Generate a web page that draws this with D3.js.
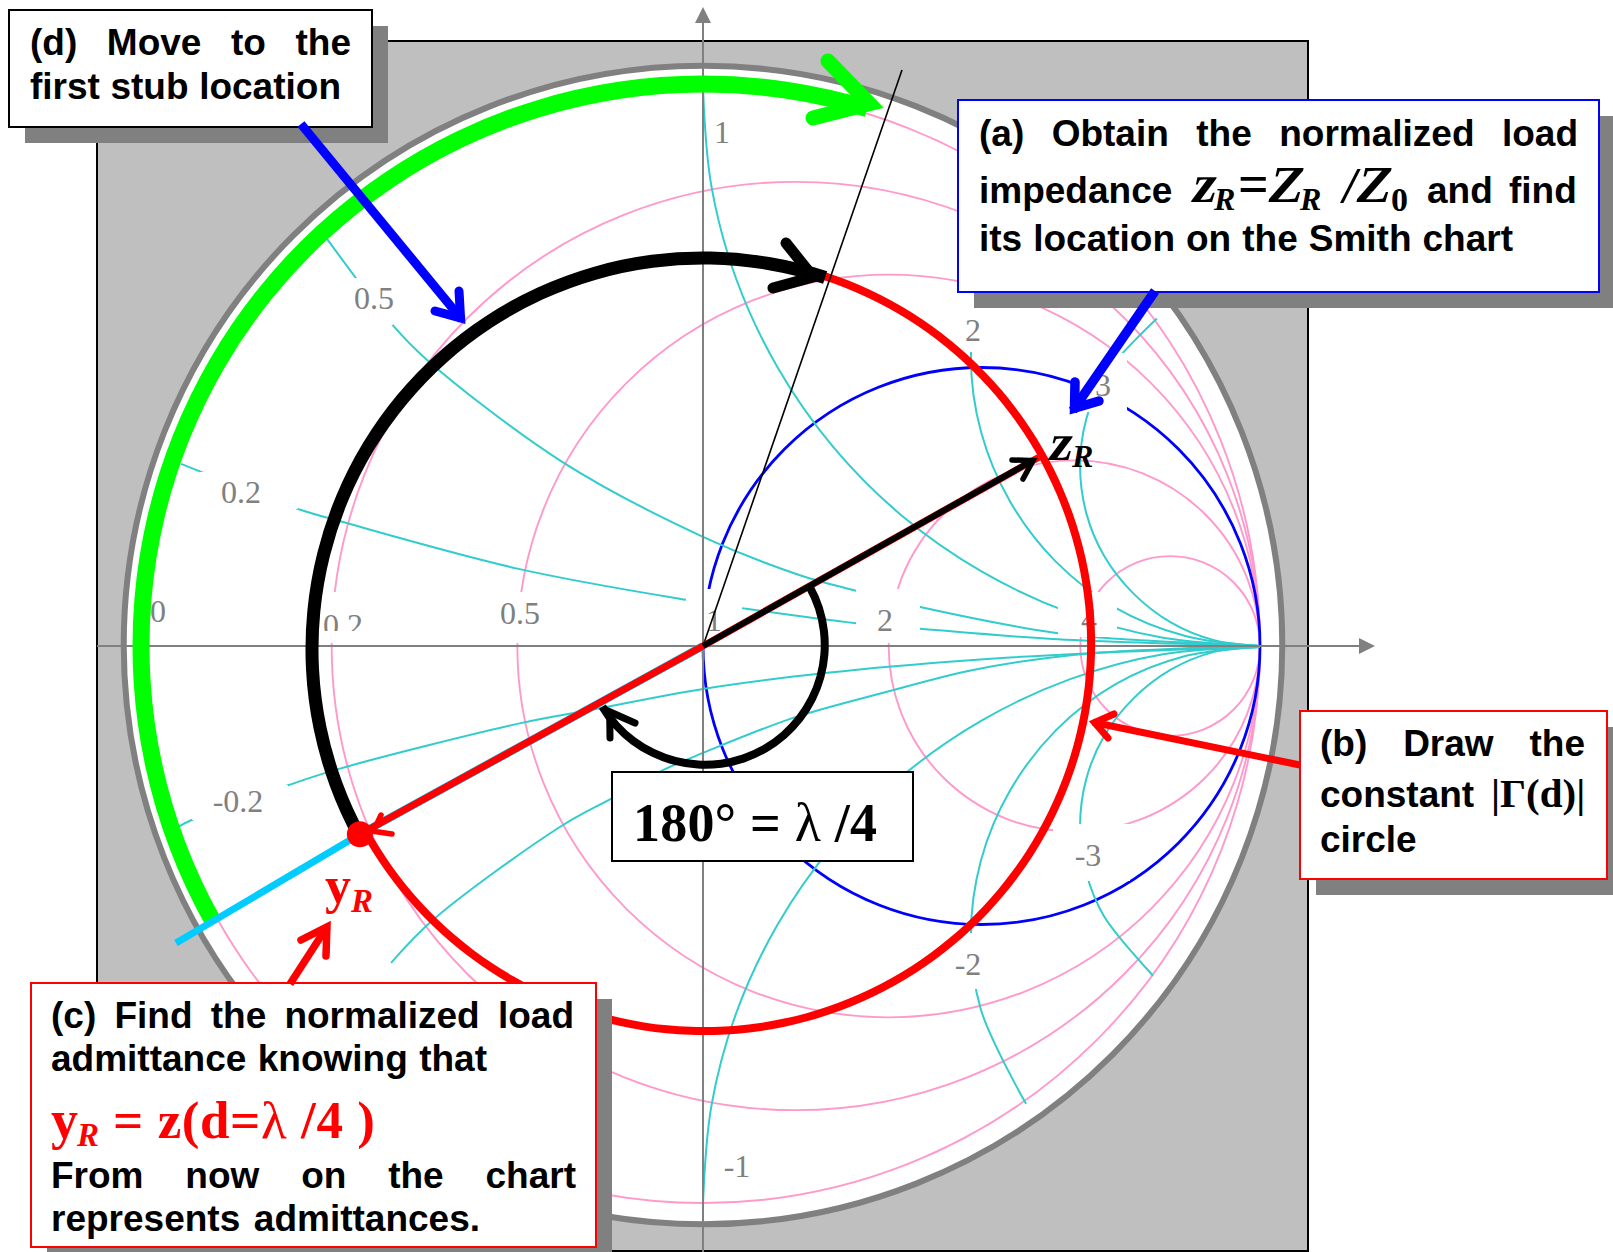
<!DOCTYPE html>
<html lang="en">

<head>
    <meta charset="UTF-8" />
    <title>Smith chart: load admittance and first stub location</title>
    <script src="https://d3js.org/d3.v7.min.js"></script>
    <style>
        html, body { margin: 0; padding: 0; background: #fff; overflow: hidden; }
        svg { display: block; }
    </style>
</head>

<body>
    <script>

        // constant resistance circles - the unit one is drawn blue
        var pinkResistance = [0, 0.2, 0.5, 2, 5.2];
        var blueResistance = [1];

        // constant reactance curves as [Re, Im] of the reflection coefficient
        var xPos02 = [[-.937, .327], [-.727, .246], [-.648, .223], [-.329, .138], [-.031, .083], [.070, .068], [.275, .041], [.390, .031], [.637, .012], [1, 0]];
        var xPos05 = [[-.675, .731], [-.557, .576], [-.497, .515], [-.255, .332], [0, .196], [.174, .127], [.275, .099], [.390, .070], [.637, .023], [.743, .013], [1, 0]];
        var xPos1 = [[0, 1], [.015, .826], [.060, .658], [.134, .5], [.234, .357], [.357, .234], [.5, .134], [.658, .060], [.826, .015], [1, 0]];
        var xPos2 = [[.551, .779], [.499, .653], [.481, .519], [.499, .385], [.551, .260], [.633, .152], [.740, .069], [.866, .018], [1, 0]];
        var xPos3 = [[.815, .588], [.720, .485], [.688, .407], [.677, .323], [.688, .239], [.720, .162], [.772, .095], [.839, .043], [.916, .011], [1, 0]];
        var xNeg02 = [[-.943, -.325], [-.917, -.312], [-.745, -.250], [-.655, -.221], [-.325, -.138], [-.203, -.115], [0, -.077], [.223, -.048], [.485, -.025], [.695, -.013], [1, -.002]];
        var xNeg05 = [[-.560, -.569], [-.485, -.492], [-.257, -.325], [-.163, -.273], [-.072, -.223], [0, -.192], [.162, -.129], [.327, -.083], [.485, -.043], [.664, -.016], [.844, -.005], [1, -.002]];
        var xNeg1 = [[0, -1], [.015, -.826], [.060, -.658], [.134, -.5], [.234, -.357], [.357, -.234], [.5, -.134], [.658, -.060], [.826, -.015], [1, -.002]];
        var xNeg2 = [[.580, -.822], [.499, -.653], [.481, -.519], [.499, -.385], [.551, -.260], [.633, -.152], [.740, -.069], [.866, -.018], [1, -.002]];
        var xNeg3 = [[.808, -.592], [.720, -.485], [.688, -.407], [.677, -.323], [.688, -.239], [.720, -.162], [.772, -.095], [.839, -.043], [.916, -.011], [1, -.002]];
        var reactanceCurves = [xPos02, xPos05, xPos1, xPos2, xPos3, xNeg02, xNeg05, xNeg1, xNeg2, xNeg3];

        // points and |gamma| values of the construction
        var zR = [.603, .339];
        var yR = [-.616, -.338];
        var gammaCircle = 0.695;

        // grey scale labels
        var scaleLabels = ["1", "0.5", "0.2", "0", "0.2", "0.5", "1", "2", "4", "2", "3", "-0.2", "-1", "-2", "-3"];

        var w = 1613;
        var h = 1252;
        var cx = 703;
        var cy = 646;
        var R = 557;

        var xScale = d3.scaleLinear().domain([-1, 1]).range([cx - R, cx + R]);
        var yScale = d3.scaleLinear().domain([-1, 1]).range([cy + R, cy - R]);
        var rScale = d3.scaleLinear().domain([0, 1]).range([0, R]);

        var sans = "'Liberation Sans', Arial, sans-serif";
        var serif = "'Liberation Serif', 'Times New Roman', serif";

        var svg = d3.select("body")
            .append("svg")
            .attr("width", w)
            .attr("height", h);

        // grey panel with the white chart disc
        svg.append("rect")
            .attr("x", 97).attr("y", 41)
            .attr("width", 1211).attr("height", 1210)
            .attr("fill", "#bfbfbf")
            .attr("stroke", "#000")
            .attr("stroke-width", 2);

        svg.append("circle")
            .attr("cx", cx).attr("cy", cy - 1)
            .attr("r", rScale(1.04))
            .attr("fill", "#fff")
            .attr("stroke", "#808080")
            .attr("stroke-width", 6);

        function drawResistance(values, color, width) {
            svg.selectAll(null)
                .data(values)
                .enter()
                .append("circle")
                .attr("cx", function (d) { return xScale(d / (1 + d)); })
                .attr("cy", yScale(0))
                .attr("r", function (d) { return rScale(1 / (1 + d)); })
                .attr("fill", "none")
                .attr("stroke", color)
                .attr("stroke-width", width);
        }

        drawResistance(pinkResistance, "#ff99cc", 1.9);
        drawResistance(blueResistance, "#0000ff", 2.8);

        var curveLine = d3.line()
            .x(function (d) { return xScale(d[0]); })
            .y(function (d) { return yScale(d[1]); })
            .curve(d3.curveCatmullRom.alpha(0.5));

        svg.selectAll(null)
            .data(reactanceCurves)
            .enter()
            .append("path")
            .attr("d", curveLine)
            .attr("fill", "none")
            .attr("stroke", "#33cccc")
            .attr("stroke-width", 2);

        // white label boxes cut the gaps in the curves
        var gaps = [
            [354, 278, 39, 47], [200, 472, 98, 37], [322, 592, 48, 51], [495, 592, 50, 51],
            [686, 589, 56, 56], [856, 589, 64, 54], [1058, 592, 59, 45], [955, 308, 35, 44],
            [1073, 353, 54, 59], [192, 785, 96, 35], [945, 933, 55, 56], [1053, 824, 77, 57]
        ];
        svg.selectAll(null)
            .data(gaps)
            .enter()
            .append("rect")
            .attr("x", function (d) { return d[0]; })
            .attr("y", function (d) { return d[1]; })
            .attr("width", function (d) { return d[2]; })
            .attr("height", function (d) { return d[3]; })
            .attr("fill", "#fff");

        var labelPos = [
            [722, 143], [374, 309], [241, 503], [158, 622], [343, 636], [520, 624], [714, 631],
            [885, 631], [1089, 630], [973, 341], [1103, 396], [238, 812], [737, 1177], [968, 975], [1088, 866]
        ];
        svg.selectAll(null)
            .data(scaleLabels)
            .enter()
            .append("text")
            .attr("x", function (d, i) { return labelPos[i][0]; })
            .attr("y", function (d, i) { return labelPos[i][1]; })
            .attr("text-anchor", "middle")
            .attr("font-family", serif)
            .attr("font-size", 32)
            .attr("fill", "#808080")
            .text(function (d) { return d; });

        // lower part of the 0.2 label is cut off in the original
        svg.append("rect").attr("x", 320).attr("y", 631).attr("width", 50).attr("height", 12).attr("fill", "#fff");

        // axes
        svg.append("line").attr("x1", cx).attr("x2", cx).attr("y1", 18).attr("y2", h)
            .attr("stroke", "#808080").attr("stroke-width", 2);
        svg.append("line").attr("x1", 97).attr("x2", 1362).attr("y1", cy).attr("y2", cy)
            .attr("stroke", "#808080").attr("stroke-width", 2);
        svg.append("path").attr("d", "M703,7L695,23L711,23Z").attr("fill", "#808080");
        svg.append("path").attr("d", "M1375,646L1359,638L1359,654Z").attr("fill", "#808080");

        // thick arcs, angles in degrees clockwise from the top
        function drawArc(r, width, from, to, color, dx, dy) {
            svg.append("path")
                .attr("transform", "translate(" + (cx + (dx || 0)) + "," + (cy + (dy || 0)) + ")")
                .attr("d", d3.arc()({
                    innerRadius: rScale(r) - width / 2,
                    outerRadius: rScale(r) + width / 2,
                    startAngle: from * Math.PI / 180,
                    endAngle: to * Math.PI / 180
                }))
                .attr("fill", color);
        }

        function polyline(points, color, width) {
            return svg.append("path")
                .attr("d", d3.line()(points))
                .attr("fill", "none")
                .attr("stroke", color)
                .attr("stroke-width", width)
                .attr("stroke-linecap", "round")
                .attr("stroke-linejoin", "miter")
                .attr("stroke-miterlimit", 12);
        }

        // open arrow head: the tip is moved back so the mitre lands on the point
        function head(tip, b1, b2, color, width) {
            var mx = (b1[0] + b2[0]) / 2, my = (b1[1] + b2[1]) / 2;
            var len = Math.hypot(tip[0] - mx, tip[1] - my);
            var a1 = Math.atan2(b1[1] - tip[1], b1[0] - tip[0]);
            var a2 = Math.atan2(b2[1] - tip[1], b2[0] - tip[0]);
            var half = Math.abs(Math.atan2(Math.sin(a1 - a2), Math.cos(a1 - a2))) / 2;
            var back = width / 2 / Math.sin(half);
            var t = [tip[0] - (tip[0] - mx) / len * back, tip[1] - (tip[1] - my) / len * back];
            polyline([b1, t, b2], color, width);
        }

        function arrow(start, tip, b1, b2, color, width) {
            polyline([start, [(b1[0] + b2[0]) / 2 * 0.25 + tip[0] * 0.75, (b1[1] + b2[1]) / 2 * 0.25 + tip[1] * 0.75]], color, width)
                .attr("stroke-linecap", "butt");
            head(tip, b1, b2, color, width);
        }

        // green: move to the first stub location
        drawArc(1.009, 17, -119.3, 17, "#00ff00");
        head([888, 109], [828, 61], [813, 118], "#00ff00", 15);

        // constant gamma circle, only the part not covered by the black rotation
        drawArc(gammaCircle, 8, 18.2, 241.3, "#ff0000", 1, -2);

        drawArc(0.702, 13, -118.7, 18.2, "#000", 0, 3);
        head([825, 281], [786, 243], [773, 288], "#000", 11);

        // thin reference line
        polyline([[cx, cy], [902, 70]], "#000", 1.6).attr("stroke-linecap", "butt");

        // radial lines, the cyan one runs under the red
        polyline([[176, 943], [xScale(yR[0]), yScale(yR[1])]], "#00ccff", 7).attr("stroke-linecap", "butt");
        polyline([[xScale(yR[0]), yScale(yR[1])], [cx, cy]], "#00ccff", 8).attr("stroke-linecap", "butt");
        polyline([[xScale(0), yScale(0)], [xScale(zR[0]), yScale(zR[1])]], "#ff0000", 7).attr("stroke-linecap", "butt");
        polyline([[xScale(yR[0]), yScale(yR[1])], [cx, cy]], "#ff0000", 7).attr("stroke-linecap", "butt");
        polyline([[xScale(0), yScale(0)], [xScale(.59), yScale(.332)]], "#000", 6).attr("stroke-linecap", "butt");
        head([xScale(zR[0]), yScale(zR[1])], [1012, 460], [1023, 479], "#000", 5.5);

        // 180 degree rotation
        drawArc(0.215, 8, 61, 239, "#000", 2, -1);
        head([605, 705], [610, 738], [635, 723], "#000", 7);

        // y_R point
        svg.append("circle")
            .attr("cx", xScale(yR[0])).attr("cy", yScale(yR[1]))
            .attr("r", 13)
            .attr("fill", "#ff0000");
        head([368, 834], [381, 815], [392, 834], "#ff0000", 5.5);

        // text helpers; skew is the slanted upright bold used for z and Z in the original
        function mixed(parts, color) {
            parts.forEach(function (p) {
                var t = svg.append("text")
                    .attr("fill", color || "#000")
                    .attr("font-family", p.family || serif)
                    .attr("font-size", p.size)
                    .attr("font-weight", p.thin ? "normal" : "bold")
                    .attr("font-style", p.italic ? "italic" : "normal")
                    .text(p.s);
                if (p.skew) {
                    t.attr("transform", "translate(" + p.x + "," + p.y + ") skewX(-12)");
                } else {
                    t.attr("x", p.x).attr("y", p.y);
                }
            });
        }

        function bodyLine(str, x, y, width) {
            var t = svg.append("text")
                .attr("x", x).attr("y", y)
                .attr("font-family", sans)
                .attr("font-size", 37)
                .attr("font-weight", "bold")
                .attr("fill", "#000")
                .text(str);
            var n = str.split(" ").length - 1;
            if (n > 0) {
                t.attr("word-spacing", (width - t.node().getComputedTextLength()) / n);
            }
            return t;
        }

        function box(x, y, bw, bh, color, shadow) {
            if (shadow) {
                svg.append("rect")
                    .attr("x", x + 16).attr("y", y + 16)
                    .attr("width", bw).attr("height", bh)
                    .attr("fill", "#808080");
            }
            svg.append("rect")
                .attr("x", x).attr("y", y)
                .attr("width", bw).attr("height", bh)
                .attr("fill", "#fff")
                .attr("stroke", color)
                .attr("stroke-width", 2);
        }

        mixed([
            { s: "z", x: 1047, y: 460, size: 52, skew: true },
            { s: "R", x: 1072, y: 467, size: 32, italic: true }
        ]);
        mixed([
            { s: "y", x: 325, y: 903, size: 52 },
            { s: "R", x: 351, y: 912, size: 33, italic: true }
        ], "#ff0000");

        // (d)
        box(9, 10, 363, 117, "#000", true);
        bodyLine("(d) Move to the", 30, 55, 321);
        bodyLine("first stub location", 30, 99, 311);

        // (a)
        box(958, 100, 641, 192, "#0000ff", true);
        bodyLine("(a) Obtain the normalized load", 979, 146, 599);
        mixed([
            { s: "impedance", x: 979, y: 203, size: 37, family: sans },
            { s: "z", x: 1190, y: 202, size: 54, skew: true },
            { s: "R", x: 1214, y: 210, size: 32, italic: true },
            { s: "=", x: 1238, y: 202, size: 54 },
            { s: "Z", x: 1266, y: 202, size: 52, skew: true },
            { s: "R", x: 1300, y: 210, size: 32, italic: true },
            { s: "/", x: 1343, y: 202, size: 50, italic: true },
            { s: "Z", x: 1354, y: 202, size: 52, skew: true },
            { s: "0", x: 1391, y: 211, size: 34 },
            { s: "and", x: 1427, y: 203, size: 37, family: sans },
            { s: "find", x: 1509, y: 203, size: 37, family: sans }
        ]);
        bodyLine("its location on the Smith chart", 979, 251, 534);

        // (b)
        box(1300, 711, 307, 168, "#ff0000", true);
        bodyLine("(b) Draw the", 1320, 756, 265);
        mixed([
            { s: "constant", x: 1320, y: 807, size: 37, family: sans },
            { s: "|Γ(d)|", x: 1491, y: 807, size: 41 }
        ]);
        bodyLine("circle", 1320, 852, 97);

        // (c)
        box(31, 983, 565, 264, "#ff0000", true);
        bodyLine("(c) Find the normalized load", 51, 1028, 523);
        bodyLine("admittance knowing that", 51, 1071, 436);
        mixed([
            { s: "y", x: 51, y: 1138, size: 54 },
            { s: "R", x: 77, y: 1146, size: 33, italic: true }
        ], "#ff0000");
        var redLine = svg.append("text")
            .attr("x", 113).attr("y", 1138)
            .attr("font-family", serif)
            .attr("font-size", 53)
            .attr("font-weight", "bold")
            .attr("fill", "#ff0000")
            .attr("textLength", 262);
        redLine.append("tspan").text("= z(d=");
        redLine.append("tspan").attr("font-weight", "normal").text("λ");
        redLine.append("tspan").text(" /4 )");
        bodyLine("From now on the chart", 51, 1188, 525);
        bodyLine("represents admittances.", 51, 1231, 429);

        // 180 degree box
        box(612, 772, 301, 89, "#000", false);
        var degText = svg.append("text")
            .attr("x", 633).attr("y", 841)
            .attr("font-family", serif)
            .attr("font-size", 54)
            .attr("font-weight", "bold")
            .attr("textLength", 244);
        degText.append("tspan").text("180° = ");
        degText.append("tspan").attr("font-weight", "normal").text("λ");
        degText.append("tspan").text(" /4");

        // call-out arrows run over the box shadows
        arrow([301, 124], [467, 326], [459, 291], [435, 311], "#0000ff", 9);
        arrow([1155, 291], [1068, 417], [1075, 382], [1099, 401], "#0000ff", 9.5);
        arrow([1300, 765], [1087, 721], [1114, 714], [1108, 738], "#ff0000", 7);
        arrow([290, 984], [332, 919], [301, 940], [326, 956], "#ff0000", 7.5);

    </script>
</body>

</html>
